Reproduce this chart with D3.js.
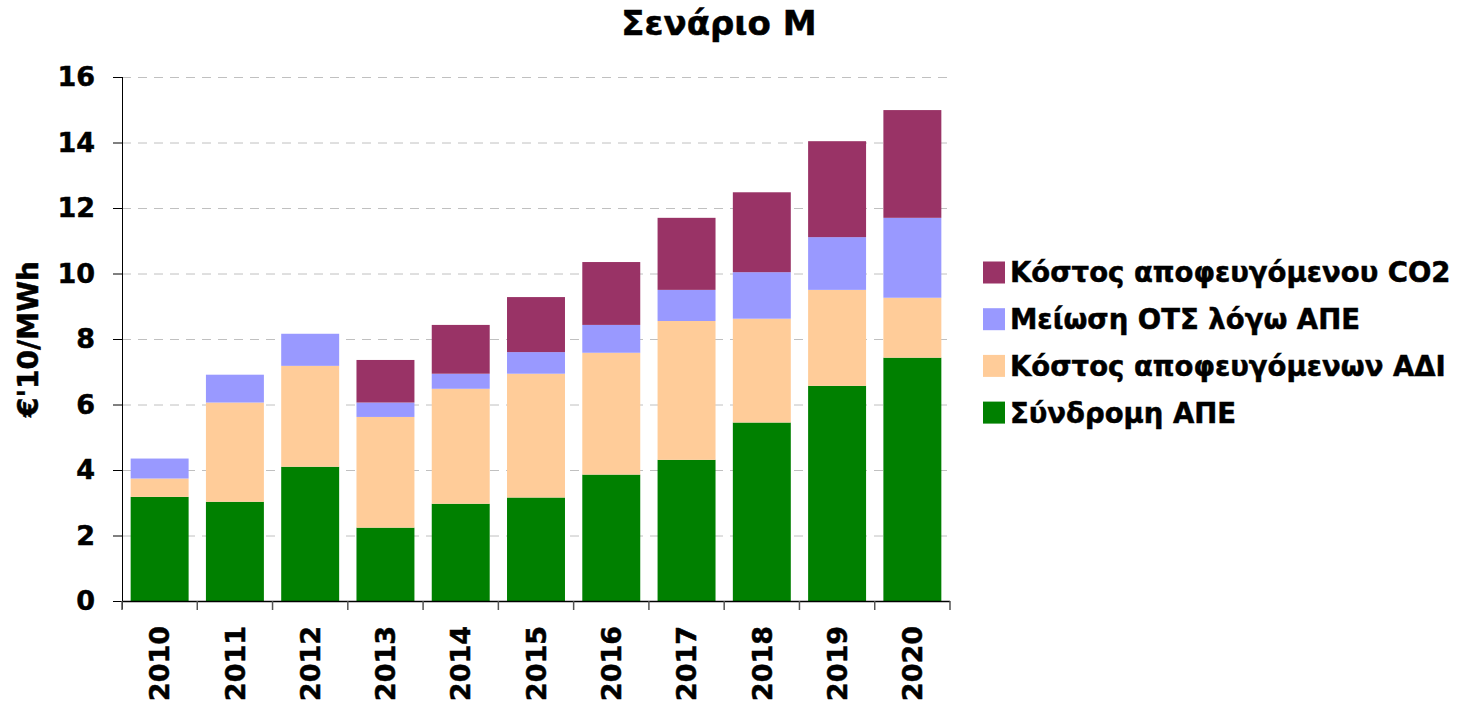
<!DOCTYPE html>
<html>
<head>
<meta charset="utf-8">
<script src="https://cdn.jsdelivr.net/npm/d3@7"></script>
<style>
  body { margin: 0; background: #fff; }
  svg text { font-family: "DejaVu Sans", Verdana, sans-serif; font-weight: bold; fill: #000; stroke: #000; stroke-width: 0.5px; }
</style>
</head>
<body>
<script>
// Data
const years = ['2010','2011','2012','2013','2014','2015','2016','2017','2018','2019','2020'];
const syndromiAPE = [3.18, 3.03, 4.10, 2.24, 2.97, 3.16, 3.86, 4.31, 5.45, 6.57, 7.43];
const kostosADI   = [0.56, 3.03, 3.08, 3.38, 3.51, 3.78, 3.72, 4.24, 3.17, 2.93, 1.83];
const meiosiOTS   = [0.61, 0.85, 0.98, 0.44, 0.46, 0.66, 0.85, 0.95, 1.42, 1.61, 2.44];
const kostosCO2   = [0, 0, 0, 1.30, 1.49, 1.68, 1.92, 2.20, 2.44, 2.93, 3.29];
const seriesNames = ['Σύνδρομη ΑΠΕ', 'Κόστος αποφευγόμενων ΑΔΙ', 'Μείωση ΟΤΣ λόγω ΑΠΕ', 'Κόστος αποφευγόμενου CO2'];
const seriesColors = ['#008000', '#FFCC99', '#9999FF', '#993366'];
const yTicks = [0, 2, 4, 6, 8, 10, 12, 14, 16];

const width = 1465, height = 705;
const margin = {top: 77, right: 515, bottom: 104, left: 122};

const svg = d3.select('body').append('svg')
  .attr('width', width)
  .attr('height', height);

// build table for stacking
const table = years.map((y, i) => ({
  year: y,
  s0: syndromiAPE[i], s1: kostosADI[i], s2: meiosiOTS[i], s3: kostosCO2[i]
}));
const stack = d3.stack().keys(['s0','s1','s2','s3'])(table);

// Scales
const x = d3.scaleBand()
  .domain(years)
  .range([margin.left, width - margin.right])
  .paddingInner(0.23)
  .paddingOuter(0.115);

const y = d3.scaleLinear()
  .domain([0, 16])
  .range([height - margin.bottom, margin.top]);

// Gridlines
svg.append('g')
  .selectAll('line')
  .data(yTicks.filter(d => d > 0))
  .join('line')
  .attr('x1', margin.left)
  .attr('x2', width - margin.right)
  .attr('y1', d => y(d) + 0.5)
  .attr('y2', d => y(d) + 0.5)
  .attr('stroke', '#c0c0c0')
  .attr('stroke-width', 1)
  .attr('stroke-dasharray', '9,7');

// Bars
svg.append('g')
  .selectAll('g')
  .data(stack)
  .join('g')
  .attr('fill', (d, i) => seriesColors[i])
  .selectAll('rect')
  .data(d => d)
  .join('rect')
  .attr('x', d => x(d.data.year))
  .attr('y', d => y(d[1]))
  .attr('width', x.bandwidth())
  .attr('height', d => y(d[0]) - y(d[1]));

// Y axis
const yAxis = svg.append('g')
  .attr('transform', 'translate(' + margin.left + ',0)')
  .call(d3.axisLeft(y).tickValues(yTicks).tickSize(9).tickPadding(18));
yAxis.selectAll('text').style('font-size', '27px');
yAxis.selectAll('line, path').attr('stroke', '#000');
yAxis.select('.domain').attr('d', 'M0.5,' + y(16) + 'V' + (y(0) + 8));

// X axis
const xg = svg.append('g')
  .attr('transform', 'translate(0,' + (y(0)) + ')');
xg.append('line')
  .attr('x1', margin.left).attr('x2', width - margin.right)
  .attr('y1', 0.5).attr('y2', 0.5)
  .attr('stroke', '#000').attr('stroke-width', 1.5);
const bounds = years.map(d => x(d) - x.step() * x.paddingInner() / 2).concat([width - margin.right]);
xg.selectAll('line.tk')
  .data(bounds)
  .join('line')
  .classed('tk', true)
  .attr('x1', d => d).attr('x2', d => d)
  .attr('y1', 0).attr('y2', 9)
  .attr('stroke', '#555').attr('stroke-width', 1.5);
xg.selectAll('text')
  .data(years)
  .join('text')
  .attr('transform', d => 'translate(' + (x(d) + x.bandwidth() / 2) + ',25) rotate(-90)')
  .attr('text-anchor', 'end')
  .attr('dy', '0.36em')
  .style('font-size', '27px')
  .text(d => d);

// Axis title
svg.append('text')
  .attr('transform', 'translate(28,' + ((y(0) + y(16)) / 2) + ') rotate(-90)')
  .attr('text-anchor', 'middle')
  .attr('dy', '0.36em')
  .style('font-size', '28px')
  .text("€'10/MWh");

// Title
svg.append('text')
  .attr('x', 719)
  .attr('y', 35)
  .attr('text-anchor', 'middle')
  .style('font-size', '34px')
  .text('Σενάριο Μ');

// Legend (reverse order)
const legend = svg.append('g').attr('transform', 'translate(983,272.5)');
const order = [3, 2, 1, 0];
legend.selectAll('rect')
  .data(order)
  .join('rect')
  .attr('x', 0)
  .attr('y', (d, i) => i * 46.7 - 11)
  .attr('width', 22).attr('height', 22)
  .attr('fill', d => seriesColors[d]);
legend.selectAll('text')
  .data(order)
  .join('text')
  .attr('x', 27)
  .attr('y', (d, i) => i * 46.7)
  .attr('dy', '0.36em')
  .style('font-size', '27.5px')
  .text(d => seriesNames[d]);
</script>
</body>
</html>
